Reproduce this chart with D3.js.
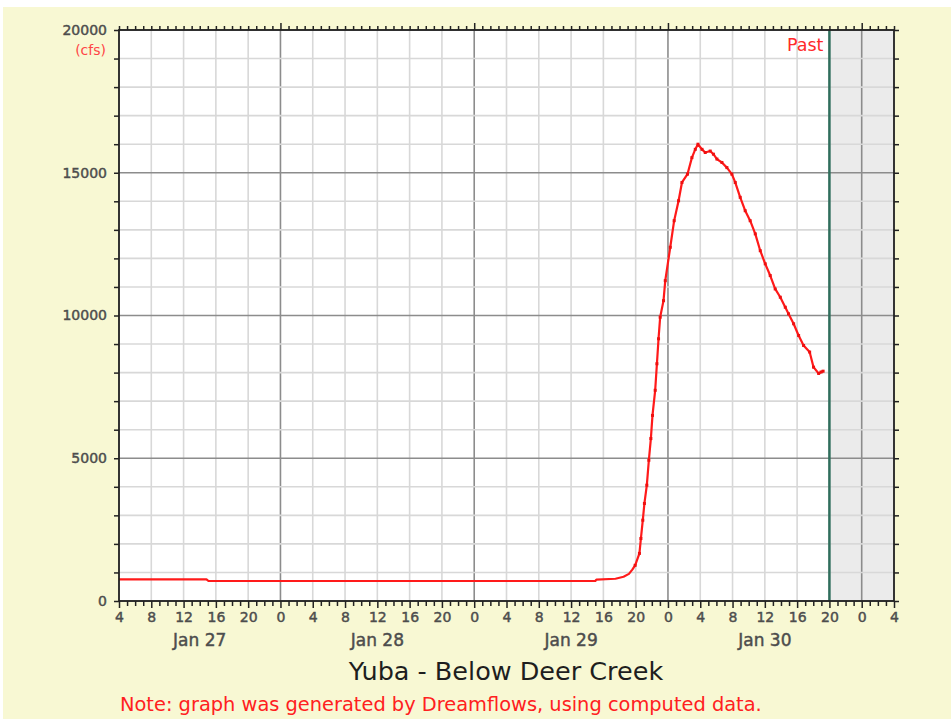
<!DOCTYPE html>
<html>
<head>
<meta charset="utf-8">
<script src="https://cdn.jsdelivr.net/npm/d3@7"></script>
<style>
  html, body { margin: 0; padding: 0; background: #ffffff; }
  svg { display: block; }
</style>
</head>
<body>
<svg id="chart" width="951" height="719"></svg>
<script>
// ---------------- DATA ----------------
const title = "Yuba - Below Deer Creek";
const note = "Note: graph was generated by Dreamflows, using computed data.";
const unitLabel = "(cfs)";
const pastLabel = "Past";
const domainStart = "2021-01-27T04:00";
const domainEnd = "2021-01-31T04:00";
const pastTime = "2021-01-30T20:00";
const yTicks = [0, 5000, 10000, 15000, 20000];
const dayLabels = ["Jan 27", "Jan 28", "Jan 29", "Jan 30"];
const dayLabelTimes = ["2021-01-27T14:00", "2021-01-28T12:00", "2021-01-29T12:00", "2021-01-30T12:00"];

const times = [
  "2021-01-27T04:00", "2021-01-27T14:50", "2021-01-27T15:05",
  "2021-01-28T12:00", "2021-01-29T15:00", "2021-01-29T15:08",
  "2021-01-29T17:30", "2021-01-29T18:30", "2021-01-29T19:10",
  "2021-01-29T19:35", "2021-01-29T19:56", "2021-01-29T20:28",
  "2021-01-29T20:39", "2021-01-29T20:53", "2021-01-29T21:05",
  "2021-01-29T21:23", "2021-01-29T21:38", "2021-01-29T21:53",
  "2021-01-29T22:05", "2021-01-29T22:25", "2021-01-29T22:38",
  "2021-01-29T22:50", "2021-01-29T23:02", "2021-01-29T23:27",
  "2021-01-29T23:40", "2021-01-30T00:17", "2021-01-30T00:46",
  "2021-01-30T01:19", "2021-01-30T01:44", "2021-01-30T02:25",
  "2021-01-30T02:58", "2021-01-30T03:23", "2021-01-30T03:43",
  "2021-01-30T04:13", "2021-01-30T04:37", "2021-01-30T05:14",
  "2021-01-30T05:38", "2021-01-30T06:04", "2021-01-30T06:41",
  "2021-01-30T07:18", "2021-01-30T07:55", "2021-01-30T08:20",
  "2021-01-30T08:57", "2021-01-30T09:34", "2021-01-30T10:11",
  "2021-01-30T10:49", "2021-01-30T11:26", "2021-01-30T12:03",
  "2021-01-30T12:40", "2021-01-30T13:17", "2021-01-30T13:55",
  "2021-01-30T14:32", "2021-01-30T14:56", "2021-01-30T15:34",
  "2021-01-30T16:11", "2021-01-30T16:48", "2021-01-30T17:33",
  "2021-01-30T18:02", "2021-01-30T18:40", "2021-01-30T18:58",
  "2021-01-30T19:13"
];
const flows = [
  760, 760, 700,
  700, 700, 750,
  780, 850, 950,
  1100, 1250, 1667,
  2190, 2830, 3416,
  4056, 4930, 5690,
  6500, 7380, 8310,
  9185, 9940, 10520,
  11220, 12390, 13320,
  14020, 14660, 14950,
  15530, 15820, 16000,
  15820, 15710, 15760,
  15650, 15480, 15360,
  15180, 14950, 14660,
  14140, 13670, 13320,
  12860, 12270, 11810,
  11400, 10930, 10640,
  10290, 10060, 9710,
  9300, 8950, 8720,
  8190, 7970, 8020,
  8050
];

// ---------------- CHART ----------------
const parse = d3.utcParse("%Y-%m-%dT%H:%M");
const data = times.map((t, i) => ({ t: parse(t), v: flows[i] }));

const svg = d3.select("#chart");
const W = 951, H = 719;
const m = { left: 119, right: 894, top: 30, bottom: 601 };
const fontFam = "DejaVu Sans, sans-serif";
const labelColor = "#4d4d4d";

// page background
svg.append("rect").attr("x", 0).attr("y", 0).attr("width", W).attr("height", H).attr("fill", "#ffffff");
svg.append("rect").attr("x", 3).attr("y", 7).attr("width", W - 3).attr("height", H - 7).attr("fill", "#f8f8d3");

const x = d3.scaleUtc().domain([parse(domainStart), parse(domainEnd)]).range([m.left, m.right]);
const y = d3.scaleLinear().domain([0, 20000]).range([m.bottom, m.top]);

// plot background
svg.append("rect").attr("x", m.left).attr("y", m.top)
  .attr("width", m.right - m.left).attr("height", m.bottom - m.top).attr("fill", "#ffffff");

// shaded future region
svg.append("rect").attr("x", x(parse(pastTime))).attr("y", m.top)
  .attr("width", m.right - x(parse(pastTime))).attr("height", m.bottom - m.top).attr("fill", "#ebebeb");

// grid lines
const hours4 = d3.utcHour.every(4).range(x.domain()[0], d3.utcHour.offset(x.domain()[1], 1));
const grid = svg.append("g");
hours4.forEach(d => {
  const major = d.getUTCHours() === 0;
  grid.append("line")
    .attr("x1", x(d)).attr("x2", x(d)).attr("y1", m.top).attr("y2", m.bottom)
    .attr("stroke", major ? "#8c8c8c" : "#d8d8d8")
    .attr("stroke-width", 1.6);
});
d3.range(0, 20001, 1000).forEach(v => {
  const major = v % 5000 === 0;
  grid.append("line")
    .attr("x1", m.left).attr("x2", m.right).attr("y1", y(v)).attr("y2", y(v))
    .attr("stroke", major ? "#8c8c8c" : "#d8d8d8")
    .attr("stroke-width", 1.6);
});

// past line
svg.append("line")
  .attr("x1", x(parse(pastTime))).attr("x2", x(parse(pastTime)))
  .attr("y1", m.top).attr("y2", m.bottom)
  .attr("stroke", "#2f6e5c").attr("stroke-width", 2.5);
svg.append("text")
  .attr("x", x(parse(pastTime)) - 6).attr("y", 51)
  .attr("text-anchor", "end")
  .attr("font-family", fontFam).attr("font-size", 17.5)
  .attr("fill", "#ff2a2a").text(pastLabel);

// flow line
const line = d3.line().x(d => x(d.t)).y(d => y(d.v));
svg.append("path").datum(data)
  .attr("d", line).attr("fill", "none")
  .attr("stroke", "#ff1a1a").attr("stroke-width", 2.2)
  .attr("stroke-linejoin", "round");
svg.append("g").selectAll("rect").data(data.slice(10))
  .join("rect")
  .attr("x", d => x(d.t) - 1.5).attr("y", d => y(d.v) - 1.5)
  .attr("width", 3).attr("height", 3).attr("fill", "#ee1010");

// frame
svg.append("rect").attr("x", m.left).attr("y", m.top)
  .attr("width", m.right - m.left).attr("height", m.bottom - m.top)
  .attr("fill", "none").attr("stroke", "#222").attr("stroke-width", 1.8);

// axes
const hours1 = d3.utcHour.every(1).range(x.domain()[0], d3.utcHour.offset(x.domain()[1], 1));

const xBottom = d3.axisBottom(x).tickValues(hours1).tickSize(5).tickFormat("");
svg.append("g").attr("transform", `translate(0,${m.bottom})`).call(xBottom)
  .call(g => g.select(".domain").remove())
  .call(g => g.selectAll(".tick line").attr("stroke", "#222").attr("stroke-width", 1.5)
    .attr("y2", d => d.getUTCHours() % 4 === 0 ? 7 : 5));

const xLabels = d3.axisBottom(x).tickValues(hours4).tickSize(0)
  .tickFormat(d => d3.utcFormat("%-H")(d));
svg.append("g").attr("transform", `translate(0,${m.bottom + 8})`).call(xLabels)
  .call(g => g.select(".domain").remove())
  .call(g => g.selectAll("text").attr("font-family", fontFam).attr("font-size", 14)
    .attr("fill", labelColor).attr("stroke", labelColor).attr("stroke-width", 0.45));

const xTop = d3.axisTop(x).tickValues(hours1).tickSize(4).tickFormat("");
svg.append("g").attr("transform", `translate(0,${m.top})`).call(xTop)
  .call(g => g.select(".domain").remove())
  .call(g => g.selectAll(".tick line").attr("stroke", "#222").attr("stroke-width", 1.5)
    .attr("y2", d => d.getUTCHours() === 0 ? -7 : -4));

const yLeft = d3.axisLeft(y).tickValues(d3.range(0, 20001, 1000)).tickSize(5)
  .tickFormat(d => yTicks.includes(d) ? d : "");
svg.append("g").attr("transform", `translate(${m.left},0)`).call(yLeft)
  .call(g => g.select(".domain").remove())
  .call(g => g.selectAll(".tick line").attr("stroke", "#222").attr("stroke-width", 1.5))
  .call(g => g.selectAll("text").attr("font-family", fontFam).attr("font-size", 14)
    .attr("fill", labelColor).attr("stroke", labelColor).attr("stroke-width", 0.45).attr("x", -12));

const yRight = d3.axisRight(y).tickValues(d3.range(0, 20001, 1000)).tickSize(5).tickFormat("");
svg.append("g").attr("transform", `translate(${m.right},0)`).call(yRight)
  .call(g => g.select(".domain").remove())
  .call(g => g.selectAll(".tick line").attr("stroke", "#222").attr("stroke-width", 1.5));

svg.append("text").attr("x", 106).attr("y", 55).attr("text-anchor", "end")
  .attr("font-family", fontFam).attr("font-size", 14).attr("fill", "#ff4545").text(unitLabel);

// day labels
svg.append("g").selectAll("text").data(dayLabels).join("text")
  .attr("x", (d, i) => x(parse(dayLabelTimes[i])))
  .attr("y", 646).attr("text-anchor", "middle")
  .attr("font-family", fontFam).attr("font-size", 17)
  .attr("fill", labelColor).attr("stroke", labelColor).attr("stroke-width", 0.45)
  .text(d => d);

// title and note
svg.append("text").attr("x", 506).attr("y", 680).attr("text-anchor", "middle")
  .attr("font-family", fontFam).attr("font-size", 25.5).attr("fill", "#1e1e1e").text(title);
svg.append("text").attr("x", 120).attr("y", 711)
  .attr("font-family", fontFam).attr("font-size", 19.4).attr("fill", "#ff2020").text(note);
</script>
</body>
</html>
